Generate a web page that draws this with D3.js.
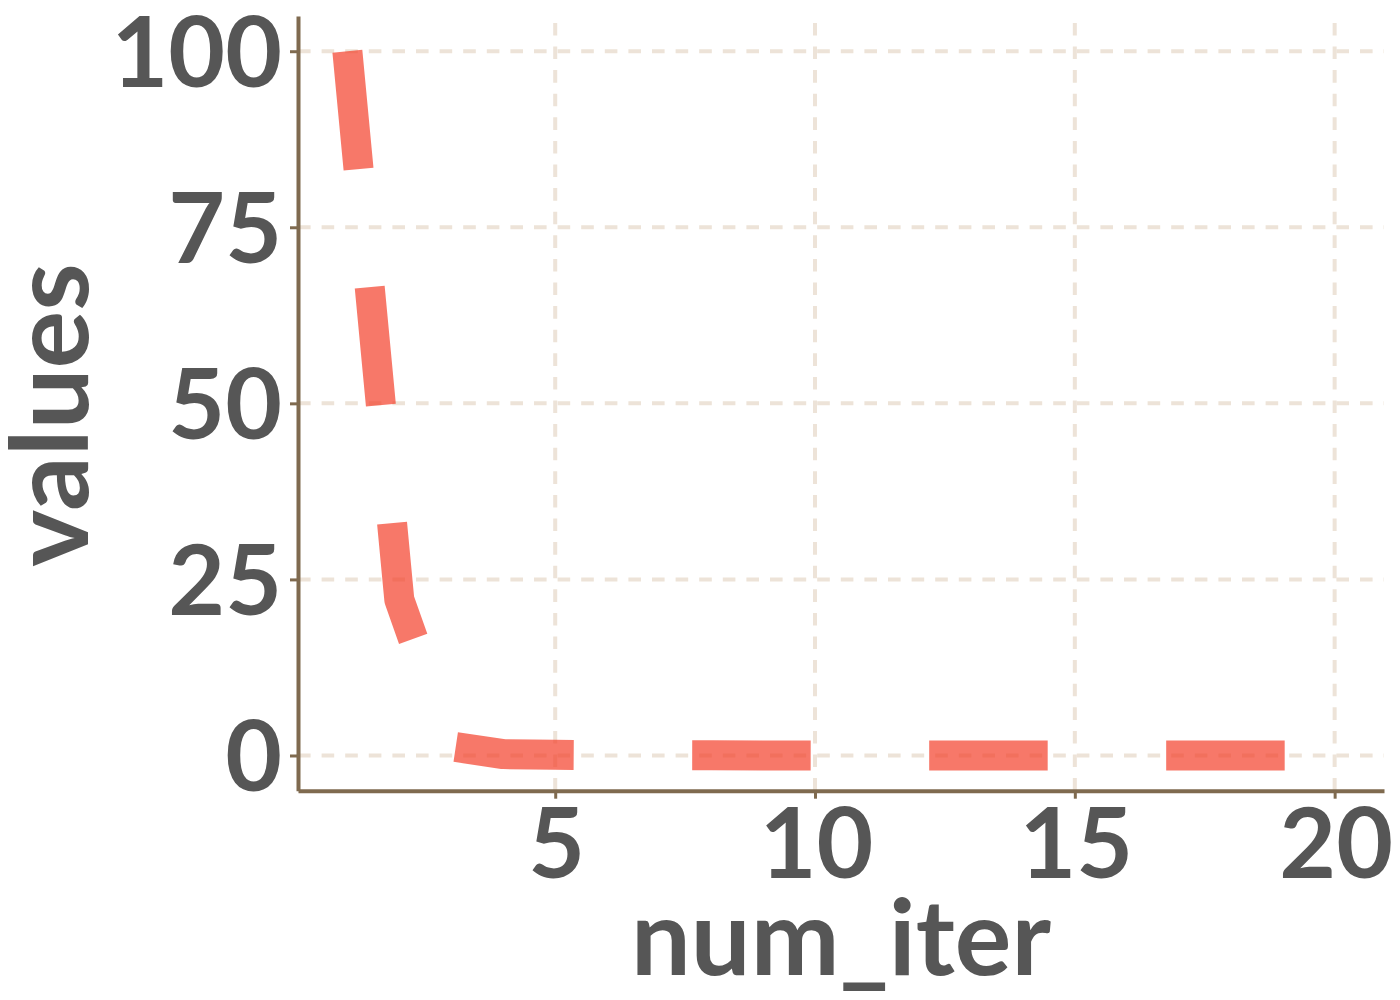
<!DOCTYPE html>
<html>
<head>
<meta charset="utf-8">
<script src="https://cdn.jsdelivr.net/npm/d3@7"></script>
<style>
  html, body { margin: 0; padding: 0; background: #ffffff; }
  svg { display: block; }
</style>
</head>
<body>
<div id="plot"></div>
<script>
// data
const numIter = [1, 2, 3, 4, 5, 6, 7, 8, 9, 10, 11, 12, 13, 14, 15, 16, 17, 18, 19, 20];
const values = [100, 22.1, 1.3, 0.2, 0.1, 0.05, 0.03, 0.02, 0.01, 0, 0, 0, 0, 0, 0, 0, 0, 0, 0, 0];
const xTicks = [5, 10, 15, 20];
const yTicks = [0, 25, 50, 75, 100];

const width = 1400;
const height = 1000;
const margin = { top: 16, right: 16, bottom: 209.3, left: 298 };

const textCol = '#565656';
const axisCol = '#7f6a4f';
const gridCol = '#ede3d8';
const lineCol = 'rgb(244,62,42)';

const data = numIter.map((d, i) => ({ x: d, y: values[i] }));

const x = d3.scaleLinear()
  .domain([0.05, 20.95])
  .range([margin.left, width - margin.right]);

const y = d3.scaleLinear()
  .domain([-5, 105])
  .range([height - margin.bottom, margin.top]);

const svg = d3.select('#plot')
  .append('svg')
  .attr('width', width)
  .attr('height', height)
  .style('font-family', 'Lato, sans-serif')
  .style('font-weight', 700);

// grid
const grid = svg.append('g')
  .attr('stroke', gridCol)
  .attr('stroke-width', 4)
  .attr('stroke-dasharray', '12.6,11');

grid.selectAll('line.h')
  .data(yTicks)
  .enter()
  .append('line')
  .attr('class', 'h')
  .attr('x1', x.range()[0])
  .attr('x2', x.range()[1])
  .attr('y1', d => y(d))
  .attr('y2', d => y(d));

grid.selectAll('line.v')
  .data(xTicks)
  .enter()
  .append('line')
  .attr('class', 'v')
  .attr('x1', d => x(d))
  .attr('x2', d => x(d))
  .attr('y1', y.range()[0])
  .attr('y2', y.range()[1]);

// the series
const line = d3.line()
  .x(d => x(d.x))
  .y(d => y(d.y));

svg.append('path')
  .datum(data)
  .attr('d', line)
  .attr('fill', 'none')
  .attr('stroke', lineCol)
  .attr('stroke-opacity', 0.7)
  .attr('stroke-width', 30)
  .attr('stroke-dasharray', '118.5,118.5')
  .attr('stroke-linecap', 'butt')
  .attr('stroke-linejoin', 'round');

// axes
const yAxis = svg.append('g')
  .attr('transform', `translate(${margin.left},0)`)
  .call(d3.axisLeft(y).tickValues(yTicks).tickSize(8).tickSizeOuter(0).tickPadding(8));

const xAxis = svg.append('g')
  .attr('transform', `translate(0,${height - margin.bottom})`)
  .call(d3.axisBottom(x).tickValues(xTicks).tickSize(8).tickSizeOuter(0));

[yAxis, xAxis].forEach(g => {
  g.select('.domain').attr('stroke', axisCol).attr('stroke-width', 4);
  g.selectAll('.tick line').attr('stroke', axisCol).attr('stroke-width', 3);
  g.selectAll('.tick text')
    .attr('fill', textCol)
    .style('font-size', '98px')
    .style('font-family', 'Lato, sans-serif')
    .style('font-weight', 700);
});

yAxis.selectAll('.tick text').attr('dy', '0.36em');
xAxis.selectAll('.tick text').attr('dy', null).attr('y', 87.3).attr('dx', 1);

// axis titles
svg.append('text')
  .attr('x', (x.range()[0] + x.range()[1]) / 2)
  .attr('y', 975)
  .attr('text-anchor', 'middle')
  .attr('fill', textCol)
  .style('font-size', '106px')
  .text('num_iter');

svg.append('text')
  .attr('transform', 'translate(88,415) rotate(-90)')
  .attr('text-anchor', 'middle')
  .attr('fill', textCol)
  .style('font-size', '108px')
  .text('values');
</script>
</body>
</html>
